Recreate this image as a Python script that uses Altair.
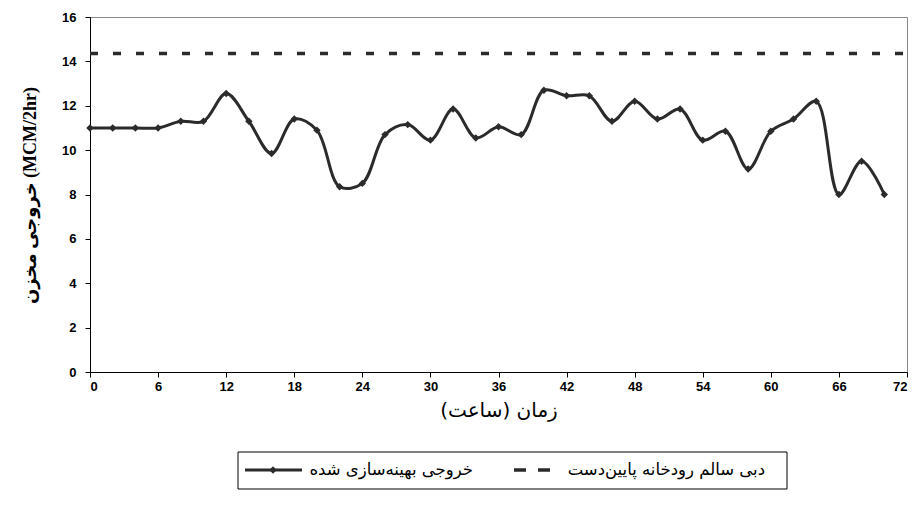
import altair as alt
import pandas as pd

# ---- data ----
hours = [0, 2, 4, 6, 8, 10, 12, 14, 16, 18, 20, 22, 24, 26, 28, 30, 32, 34,
         36, 38, 40, 42, 44, 46, 48, 50, 52, 54, 56, 58, 60, 62, 64, 66, 68, 70]
optimized = [11.0, 11.0, 11.0, 11.0, 11.3, 11.3, 12.55, 11.3, 9.85, 11.4, 10.9, 8.35,
             8.5, 10.7, 11.15, 10.45, 11.85, 10.55, 11.05, 10.7, 12.7, 12.45, 12.45,
             11.3, 12.2, 11.4, 11.85, 10.45, 10.85, 9.15, 10.85, 11.4, 12.2, 8.0, 9.5, 8.0]
healthy_hours = [0, 72]
healthy_flow = [14.35, 14.35]

series_opt = "خروجی بهینه‌سازی شده"
series_healthy = "دبی سالم رودخانه پایین‌دست"
x_title = "زمان (ساعت)"
y_title = "خروجی مخزن (MCM/2hr)"
x_ticks = [0, 6, 12, 18, 24, 30, 36, 42, 48, 54, 60, 66, 72]
y_ticks = [0, 2, 4, 6, 8, 10, 12, 14, 16]

df_opt = pd.DataFrame({"t": hours, "v": optimized})
df_h = pd.DataFrame({"t": healthy_hours, "v": healthy_flow})

W, H = 817, 355
LINE = "#2b2b2b"

xs = alt.Scale(domain=[0, 72], nice=False)
ys = alt.Scale(domain=[0, 16], nice=False)

x_axis = alt.Axis(values=x_ticks, title=x_title, grid=False,
                  labelFont="Liberation Sans", labelFontWeight="bold", labelFontSize=13,
                  labelColor="black", labelPadding=3,
                  domainColor="black", tickColor="black", tickSize=5,
                  titleFont="DejaVu Sans", titleFontSize=20, titleFontWeight="normal",
                  titleColor="black", titleY=38, titleBaseline="middle")
y_axis = alt.Axis(values=y_ticks, title=y_title, grid=False,
                  labelFont="Liberation Sans", labelFontWeight="bold", labelFontSize=13,
                  labelColor="black", labelPadding=9,
                  domainColor="black", tickColor="black", tickSize=5,
                  titleFont="Liberation Serif, DejaVu Sans", titleFontSize=18,
                  titleFontWeight="bold",
                  titleColor="black", titleX=-60, titleY=178, titleAngle=270,
                  titleAlign="center", titleBaseline="middle")

base_x = alt.X("t:Q", scale=xs, axis=x_axis)
base_y = alt.Y("v:Q", scale=ys, axis=y_axis)

healthy_line = alt.Chart(df_h).mark_line(
    color=LINE, strokeWidth=3.5, strokeDash=[8, 15]
).encode(x=base_x, y=base_y)

opt_line = alt.Chart(df_opt).mark_line(
    color=LINE, strokeWidth=3, interpolate="catmull-rom"
).encode(x="t:Q", y="v:Q")

opt_pts = alt.Chart(df_opt).mark_point(
    shape="diamond", filled=True, color=LINE, size=55, opacity=1
).encode(x="t:Q", y="v:Q")

# ---- legend (decoration) ----
one = pd.DataFrame({"k": [0]})
leg_box = alt.Chart(one).mark_rect(fill="white", stroke="black", strokeWidth=1).encode(
    x=alt.value(148), x2=alt.value(697), y=alt.value(435), y2=alt.value(472))
leg_line = alt.Chart(one).mark_rule(color=LINE, strokeWidth=3).encode(
    x=alt.value(155), x2=alt.value(212), y=alt.value(453))
leg_diamond = alt.Chart(one).mark_point(shape="diamond", filled=True, color=LINE,
                                         size=55, opacity=1).encode(
    x=alt.value(183), y=alt.value(453))
leg_dash = alt.Chart(one).mark_rule(color=LINE, strokeWidth=3.5, strokeDash=[12, 12]).encode(
    x=alt.value(424), x2=alt.value(460), y=alt.value(453))
leg_t1 = alt.Chart(one).mark_text(font="DejaVu Sans", fontSize=16.5, align="right",
                                   baseline="middle", color="black").encode(
    x=alt.value(383), y=alt.value(453), text=alt.value(series_opt))
leg_t2 = alt.Chart(one).mark_text(font="DejaVu Sans", fontSize=16.5, align="right",
                                   baseline="middle", color="black").encode(
    x=alt.value(675), y=alt.value(453), text=alt.value(series_healthy))

chart = alt.layer(
    healthy_line, opt_line, opt_pts,
    leg_box, leg_line, leg_diamond, leg_dash, leg_t1, leg_t2
).properties(
    width=W, height=H,
    autosize=alt.AutoSizeParams(type="none"),
    padding={"left": 82, "top": 9, "right": 3, "bottom": 128},
    background="white",
).configure_view(stroke="#888888", strokeWidth=1)

chart.save("out.html", embed_options={"renderer": "svg", "actions": False})
